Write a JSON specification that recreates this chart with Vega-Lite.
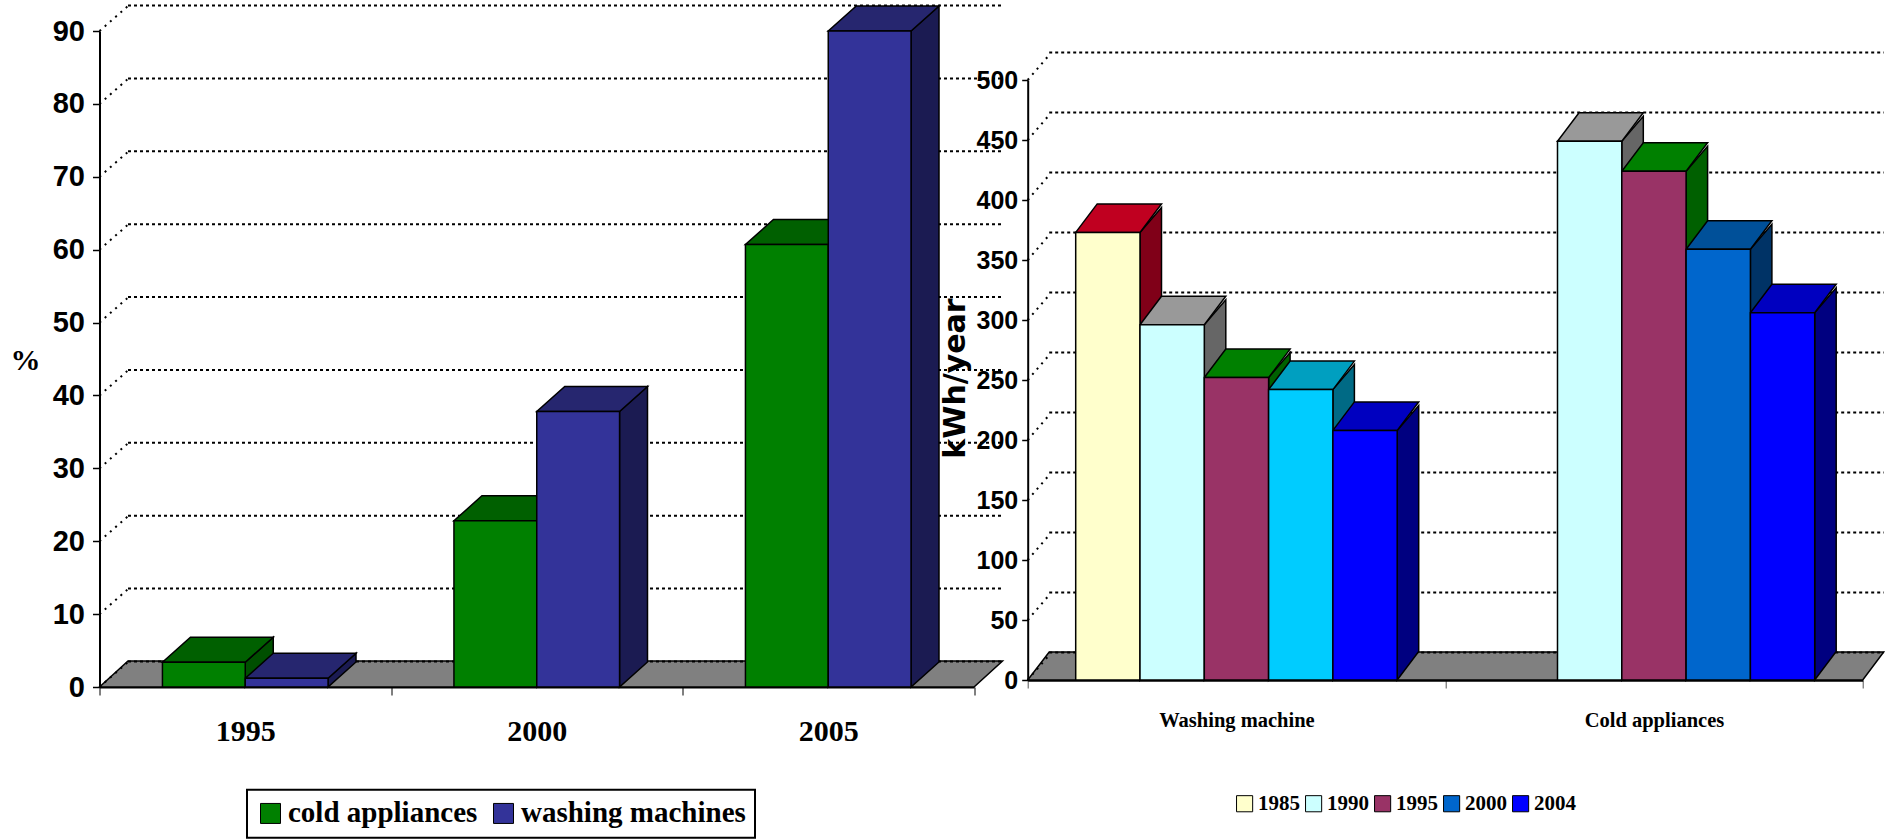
{
  "$schema": "https://vega.github.io/schema/vega-lite/v6.json",
  "background": "white",
  "padding": {"left": 9.5, "top": 1, "right": 2, "bottom": 0},
  "config": {"view": {"stroke": null}, "legend": {"strokeWidth": 2}},
  "bounds": "flush",
  "spacing": 53.2,
  "resolve": {"scale": {"fill": "independent"}},
  "datasets": {
    "adoption": [
      {"year": "1995", "series": "cold appliances", "value": 3.4},
      {"year": "1995", "series": "washing machines", "value": 1.2},
      {"year": "2000", "series": "cold appliances", "value": 22.8},
      {"year": "2000", "series": "washing machines", "value": 37.8},
      {"year": "2005", "series": "cold appliances", "value": 60.7},
      {"year": "2005", "series": "washing machines", "value": 90}
    ],
    "consumption": [
      {"product": "Washing machine", "series": "1985", "value": 373},
      {"product": "Washing machine", "series": "1990", "value": 296},
      {"product": "Washing machine", "series": "1995", "value": 252},
      {"product": "Washing machine", "series": "2000", "value": 242},
      {"product": "Washing machine", "series": "2004", "value": 208},
      {"product": "Cold appliances", "series": "1990", "value": 449},
      {"product": "Cold appliances", "series": "1995", "value": 424},
      {"product": "Cold appliances", "series": "2000", "value": 359},
      {"product": "Cold appliances", "series": "2004", "value": 306}
    ],
    "planes": [
      {"series": "cold appliances", "depth": [0, 1]},
      {"series": "washing machines", "depth": [0, 1]},
      {"series": "1985", "depth": [0, 1]},
      {"series": "1990", "depth": [0, 1]},
      {"series": "1995", "depth": [0, 1]},
      {"series": "2000", "depth": [0, 1]},
      {"series": "2004", "depth": [0, 1]}
    ],
    "percentTicks": [
      {"tick": 0, "depth": [0, 1]}, {"tick": 10, "depth": [0, 1]}, {"tick": 20, "depth": [0, 1]},
      {"tick": 30, "depth": [0, 1]}, {"tick": 40, "depth": [0, 1]}, {"tick": 50, "depth": [0, 1]},
      {"tick": 60, "depth": [0, 1]}, {"tick": 70, "depth": [0, 1]}, {"tick": 80, "depth": [0, 1]},
      {"tick": 90, "depth": [0, 1]}
    ],
    "kwhTicks": [
      {"tick": 0, "depth": [0, 1]}, {"tick": 50, "depth": [0, 1]}, {"tick": 100, "depth": [0, 1]},
      {"tick": 150, "depth": [0, 1]}, {"tick": 200, "depth": [0, 1]}, {"tick": 250, "depth": [0, 1]},
      {"tick": 300, "depth": [0, 1]}, {"tick": 350, "depth": [0, 1]}, {"tick": 400, "depth": [0, 1]},
      {"tick": 450, "depth": [0, 1]}, {"tick": 500, "depth": [0, 1]}
    ]
  },
  "hconcat": [
    {
      "width": 874.5,
      "height": 656,
      "resolve": {"scale": {"xOffset": "independent"}},
      "layer": [
        {
          "data": {"name": "percentTicks"},
          "mark": {"type": "point", "shape": "M0 0L874.5 0L903 -26L28.5 -26Z", "size": 4, "filled": true, "fill": "#808080", "stroke": "black", "strokeWidth": 1.5, "opacity": 1},
          "transform": [{"filter": "datum.tick === 0"}],
          "encoding": {
            "x": {"datum": "1995", "type": "nominal", "bandPosition": 0, "scale": {"type": "band", "domain": ["1995", "2000", "2005"], "paddingInner": 0, "paddingOuter": 0}, "axis": {"title": null, "labelFont": "Liberation Serif", "labelFontWeight": "bold", "labelFontSize": 30, "labelColor": "black", "labelAngle": 0, "labelPadding": 36, "tickBand": "extent", "tickColor": "black", "tickSize": 8, "tickWidth": 1, "domainColor": "black", "domainWidth": 2, "labelBaseline": "middle", "grid": false}},
            "y": {"field": "tick", "type": "quantitative", "scale": {"domain": [0, 90], "range": [656, 0], "nice": false}, "axis": {"values": [0, 10, 20, 30, 40, 50, 60, 70, 80, 90], "grid": false, "title": "%", "titleAngle": 0, "titleFont": "Liberation Serif", "titleFontWeight": "bold", "titleFontSize": 30, "titleAlign": "center", "titleBaseline": "middle", "titleX": -74.5, "titleY": 329, "labelFont": "Liberation Sans", "labelFontWeight": "bold", "labelFontSize": 29, "labelColor": "black", "labelPadding": 8, "tickColor": "black", "tickSize": 7, "tickWidth": 1.5, "domainColor": "black", "domainWidth": 2}}
          }
        },
        {
          "data": {"name": "percentTicks"},
          "transform": [{"flatten": ["depth"]}],
          "mark": {"type": "line", "yOffset": -25.5, "stroke": "black", "strokeWidth": 2, "strokeDash": [3, 3]},
          "encoding": {
            "x": {"datum": "1995", "type": "nominal"},
            "xOffset": {"field": "depth", "type": "quantitative", "scale": {"domain": [0, 1], "range": [28.5, 903]}},
            "y": {"field": "tick", "type": "quantitative"},
            "detail": {"field": "tick"},
            "order": {"field": "depth", "type": "quantitative"}
          }
        },
        {
          "data": {"name": "percentTicks"},
          "transform": [{"flatten": ["depth"]}],
          "mark": {"type": "line", "stroke": "black", "strokeWidth": 2, "strokeDash": [2, 5]},
          "encoding": {
            "x": {"datum": "1995", "type": "nominal"},
            "xOffset": {"field": "depth", "type": "quantitative", "scale": {"domain": [0, 1], "range": [0, 28.5]}},
            "y": {"datum": {"expr": "datum.tick"}, "type": "quantitative"},
            "yOffset": {"field": "depth", "type": "quantitative", "scale": {"domain": [0, 1], "range": [0, -25]}},
            "detail": {"field": "tick"},
            "order": {"field": "depth", "type": "quantitative"}
          }
        },
        {
          "data": {"name": "adoption"},
          "transform": [
            {"filter": "datum.series === 'cold appliances'"},
            {"lookup": "series", "from": {"data": {"name": "planes"}, "key": "series", "fields": ["depth"]}},
            {"flatten": ["depth"]}
          ],
          "mark": {"type": "area", "fill": "#004F00", "stroke": "black", "strokeWidth": 1.5},
          "encoding": {
            "x": {"field": "year", "type": "nominal"},
            "xOffset": {"field": "depth", "type": "quantitative", "scale": {"domain": [0, 1], "range": [145.75, 173.75]}},
            "y": {"datum": {"expr": "datum.value"}, "type": "quantitative", "stack": null},
            "y2": {"datum": {"expr": "datum.depth * 3.43"}},
            "yOffset": {"field": "depth", "type": "quantitative", "scale": {"domain": [0, 1], "range": [0, -25]}},
            "detail": {"field": "year"}
          }
        },
        {
          "data": {"name": "adoption"},
          "transform": [
            {"filter": "datum.series === 'washing machines'"},
            {"lookup": "series", "from": {"data": {"name": "planes"}, "key": "series", "fields": ["depth"]}},
            {"flatten": ["depth"]}
          ],
          "mark": {"type": "area", "fill": "#1B1B52", "stroke": "black", "strokeWidth": 1.5},
          "encoding": {
            "x": {"field": "year", "type": "nominal"},
            "xOffset": {"field": "depth", "type": "quantitative", "scale": {"domain": [0, 1], "range": [228.5, 256.5]}},
            "y": {"datum": {"expr": "datum.value"}, "type": "quantitative", "stack": null},
            "y2": {"datum": {"expr": "datum.depth * 3.43"}},
            "yOffset": {"field": "depth", "type": "quantitative", "scale": {"domain": [0, 1], "range": [0, -25]}},
            "detail": {"field": "year"}
          }
        },
        {
          "data": {"name": "adoption"},
          "transform": [{"filter": "datum.series === 'cold appliances'"}],
          "mark": {"type": "point", "shape": "M-41.4 0L41.4 0L69.4 -25L-13.4 -25Z", "size": 4, "filled": true, "fill": "#006000", "stroke": "black", "strokeWidth": 1.5, "opacity": 1},
          "encoding": {
            "x": {"field": "year", "type": "nominal"},
            "xOffset": {"field": "series", "type": "nominal", "scale": {"type": "band", "domain": ["cold appliances", "washing machines"], "paddingInner": 0, "paddingOuter": 0.76}},
            "y": {"field": "value", "type": "quantitative"}
          }
        },
        {
          "data": {"name": "adoption"},
          "transform": [{"filter": "datum.series === 'washing machines'"}],
          "mark": {"type": "point", "shape": "M-41.4 0L41.4 0L69.4 -25L-13.4 -25Z", "size": 4, "filled": true, "fill": "#26266F", "stroke": "black", "strokeWidth": 1.5, "opacity": 1},
          "encoding": {
            "x": {"field": "year", "type": "nominal"},
            "xOffset": {"field": "series", "type": "nominal", "scale": {"type": "band", "domain": ["cold appliances", "washing machines"], "paddingInner": 0, "paddingOuter": 0.76}},
            "y": {"field": "value", "type": "quantitative"}
          }
        },
        {
          "data": {"name": "adoption"},
          "mark": {"type": "bar", "stroke": "black", "strokeWidth": 1.5},
          "encoding": {
            "x": {"field": "year", "type": "nominal"},
            "xOffset": {"field": "series", "type": "nominal", "scale": {"type": "band", "domain": ["cold appliances", "washing machines"], "paddingInner": 0, "paddingOuter": 0.76}},
            "y": {"field": "value", "type": "quantitative", "stack": null},
            "fill": {
              "field": "series",
              "type": "nominal",
              "scale": {"domain": ["cold appliances", "washing machines"], "range": ["#008000", "#333399"]},
              "legend": {"title": null, "orient": "none", "legendX": 147.5, "legendY": 758.7, "direction": "horizontal", "columns": 2, "symbolType": "square", "symbolSize": 400, "symbolStrokeColor": "black", "symbolStrokeWidth": 1, "labelFont": "Liberation Serif", "labelFontWeight": "bold", "labelFontSize": 29, "labelColor": "black", "labelOffset": 3, "labelLimit": 400, "columnPadding": 11, "padding": 9, "strokeColor": "black", "fillColor": "white"}
            }
          }
        }
      ]
    },
    {
      "width": 835,
      "height": 649,
      "resolve": {"scale": {"xOffset": "independent"}},
      "layer": [
        {
          "data": {"name": "kwhTicks"},
          "transform": [{"filter": "datum.tick === 0"}],
          "mark": {"type": "point", "shape": "M0 0L835 0L856 -28L21.5 -28Z", "size": 4, "filled": true, "fill": "#808080", "stroke": "black", "strokeWidth": 1.5, "opacity": 1},
          "encoding": {
            "x": {"datum": "Washing machine", "type": "nominal", "bandPosition": 0, "scale": {"type": "band", "domain": ["Washing machine", "Cold appliances"], "paddingInner": 0, "paddingOuter": 0}, "axis": {"title": null, "labelFont": "Liberation Serif", "labelFontWeight": "bold", "labelFontSize": 20.5, "labelColor": "black", "labelAngle": 0, "labelPadding": 32, "tickBand": "extent", "tickColor": "#555555", "tickSize": 8, "tickWidth": 1, "domainColor": "black", "domainWidth": 2.5, "labelBaseline": "middle", "grid": false}},
            "y": {"field": "tick", "type": "quantitative", "scale": {"domain": [0, 500], "range": [649, 49], "nice": false}, "axis": {"values": [0, 50, 100, 150, 200, 250, 300, 350, 400, 450, 500], "grid": false, "title": "kWh/year", "titleAngle": 270, "titleFont": "DejaVu Sans", "titleFontWeight": "bold", "titleFontSize": 30, "titleAlign": "center", "titleBaseline": "middle", "titleX": -72, "titleY": 347, "labelFont": "Liberation Sans", "labelFontWeight": "bold", "labelFontSize": 25, "labelColor": "black", "labelPadding": 4, "tickColor": "black", "tickSize": 6, "tickWidth": 1.5, "domainColor": "black", "domainWidth": 2}}
          }
        },
        {
          "data": {"name": "kwhTicks"},
          "transform": [{"flatten": ["depth"]}],
          "mark": {"type": "line", "yOffset": -27.5, "stroke": "black", "strokeWidth": 2, "strokeDash": [3, 3]},
          "encoding": {
            "x": {"datum": "Washing machine", "type": "nominal"},
            "xOffset": {"field": "depth", "type": "quantitative", "scale": {"domain": [0, 1], "range": [21.5, 856]}},
            "y": {"field": "tick", "type": "quantitative"},
            "detail": {"field": "tick"},
            "order": {"field": "depth", "type": "quantitative"}
          }
        },
        {
          "data": {"name": "kwhTicks"},
          "transform": [{"flatten": ["depth"]}],
          "mark": {"type": "line", "stroke": "black", "strokeWidth": 2, "strokeDash": [2, 5]},
          "encoding": {
            "x": {"datum": "Washing machine", "type": "nominal"},
            "xOffset": {"field": "depth", "type": "quantitative", "scale": {"domain": [0, 1], "range": [0, 21.5]}},
            "y": {"datum": {"expr": "datum.tick"}, "type": "quantitative"},
            "yOffset": {"field": "depth", "type": "quantitative", "scale": {"domain": [0, 1], "range": [0, -28.5]}},
            "detail": {"field": "tick"},
            "order": {"field": "depth", "type": "quantitative"}
          }
        },
        {
          "data": {"name": "consumption"},
          "transform": [
            {"filter": "datum.series === '1985'"},
            {"lookup": "series", "from": {"data": {"name": "planes"}, "key": "series", "fields": ["depth"]}},
            {"flatten": ["depth"]}
          ],
          "mark": {"type": "area", "fill": "#800018", "stroke": "black", "strokeWidth": 1.5},
          "encoding": {
            "x": {"field": "product", "type": "nominal"},
            "xOffset": {"field": "depth", "type": "quantitative", "scale": {"domain": [0, 1], "range": [112.3, 133.8]}},
            "y": {"datum": {"expr": "datum.value"}, "type": "quantitative", "stack": null},
            "y2": {"datum": {"expr": "datum.depth * 23.75"}},
            "yOffset": {"field": "depth", "type": "quantitative", "scale": {"domain": [0, 1], "range": [0, -28.5]}},
            "detail": {"field": "product"}
          }
        },
        {
          "data": {"name": "consumption"},
          "transform": [
            {"filter": "datum.series === '1990'"},
            {"lookup": "series", "from": {"data": {"name": "planes"}, "key": "series", "fields": ["depth"]}},
            {"flatten": ["depth"]}
          ],
          "mark": {"type": "area", "fill": "#666666", "stroke": "black", "strokeWidth": 1.5},
          "encoding": {
            "x": {"field": "product", "type": "nominal"},
            "xOffset": {"field": "depth", "type": "quantitative", "scale": {"domain": [0, 1], "range": [176.6, 198.1]}},
            "y": {"datum": {"expr": "datum.value"}, "type": "quantitative", "stack": null},
            "y2": {"datum": {"expr": "datum.depth * 23.75"}},
            "yOffset": {"field": "depth", "type": "quantitative", "scale": {"domain": [0, 1], "range": [0, -28.5]}},
            "detail": {"field": "product"}
          }
        },
        {
          "data": {"name": "consumption"},
          "transform": [
            {"filter": "datum.series === '1995'"},
            {"lookup": "series", "from": {"data": {"name": "planes"}, "key": "series", "fields": ["depth"]}},
            {"flatten": ["depth"]}
          ],
          "mark": {"type": "area", "fill": "#006000", "stroke": "black", "strokeWidth": 1.5},
          "encoding": {
            "x": {"field": "product", "type": "nominal"},
            "xOffset": {"field": "depth", "type": "quantitative", "scale": {"domain": [0, 1], "range": [240.9, 262.4]}},
            "y": {"datum": {"expr": "datum.value"}, "type": "quantitative", "stack": null},
            "y2": {"datum": {"expr": "datum.depth * 23.75"}},
            "yOffset": {"field": "depth", "type": "quantitative", "scale": {"domain": [0, 1], "range": [0, -28.5]}},
            "detail": {"field": "product"}
          }
        },
        {
          "data": {"name": "consumption"},
          "transform": [
            {"filter": "datum.series === '2000'"},
            {"lookup": "series", "from": {"data": {"name": "planes"}, "key": "series", "fields": ["depth"]}},
            {"flatten": ["depth"]}
          ],
          "mark": {"type": "area", "stroke": "black", "strokeWidth": 1.5},
          "encoding": {
            "x": {"field": "product", "type": "nominal"},
            "xOffset": {"field": "depth", "type": "quantitative", "scale": {"domain": [0, 1], "range": [305.2, 326.7]}},
            "y": {"datum": {"expr": "datum.value"}, "type": "quantitative", "stack": null},
            "y2": {"datum": {"expr": "datum.depth * 23.75"}},
            "yOffset": {"field": "depth", "type": "quantitative", "scale": {"domain": [0, 1], "range": [0, -28.5]}},
            "detail": {"field": "product"},
            "fill": {"condition": {"test": "datum.product === 'Washing machine'", "value": "#006A85"}, "value": "#003366"}
          }
        },
        {
          "data": {"name": "consumption"},
          "transform": [
            {"filter": "datum.series === '2004'"},
            {"lookup": "series", "from": {"data": {"name": "planes"}, "key": "series", "fields": ["depth"]}},
            {"flatten": ["depth"]}
          ],
          "mark": {"type": "area", "fill": "#000080", "stroke": "black", "strokeWidth": 1.5},
          "encoding": {
            "x": {"field": "product", "type": "nominal"},
            "xOffset": {"field": "depth", "type": "quantitative", "scale": {"domain": [0, 1], "range": [369.5, 391]}},
            "y": {"datum": {"expr": "datum.value"}, "type": "quantitative", "stack": null},
            "y2": {"datum": {"expr": "datum.depth * 23.75"}},
            "yOffset": {"field": "depth", "type": "quantitative", "scale": {"domain": [0, 1], "range": [0, -28.5]}},
            "detail": {"field": "product"}
          }
        },
        {
          "data": {"name": "consumption"},
          "mark": {"type": "point", "shape": "M-32.15 0L32.15 0L53.65 -28.5L-10.65 -28.5Z", "size": 4, "filled": true, "stroke": "black", "strokeWidth": 1.5, "opacity": 1},
          "encoding": {
            "x": {"field": "product", "type": "nominal"},
            "xOffset": {"field": "series", "type": "nominal", "scale": {"type": "band", "domain": ["1985", "1990", "1995", "2000", "2004"], "paddingInner": 0, "paddingOuter": 0.7465}},
            "y": {"field": "value", "type": "quantitative"},
            "fill": {
              "condition": [
                {"test": "datum.series === '1985'", "value": "#C00020"},
                {"test": "datum.series === '1990'", "value": "#999999"},
                {"test": "datum.series === '1995'", "value": "#008000"},
                {"test": "datum.series === '2000' && datum.product === 'Washing machine'", "value": "#009FC0"},
                {"test": "datum.series === '2000'", "value": "#005099"}
              ],
              "value": "#0000C0"
            }
          }
        },
        {
          "data": {"name": "consumption"},
          "mark": {"type": "bar", "stroke": "black", "strokeWidth": 1.5},
          "encoding": {
            "x": {"field": "product", "type": "nominal"},
            "xOffset": {"field": "series", "type": "nominal", "scale": {"type": "band", "domain": ["1985", "1990", "1995", "2000", "2004"], "paddingInner": 0, "paddingOuter": 0.7465}},
            "y": {"field": "value", "type": "quantitative", "stack": null},
            "fill": {
              "condition": {"test": "datum.series === '2000' && datum.product === 'Washing machine'", "value": "#00CCFF"},
              "field": "series",
              "type": "nominal",
              "scale": {"domain": ["1985", "1990", "1995", "2000", "2004"], "range": ["#FFFFCC", "#CCFFFF", "#993366", "#0066CC", "#0000FF"]},
              "legend": {"title": null, "orient": "none", "legendX": 206.4, "legendY": 762, "direction": "horizontal", "columns": 5, "symbolType": "square", "symbolSize": 260, "symbolStrokeColor": "black", "symbolStrokeWidth": 1, "labelFont": "Liberation Serif", "labelFontWeight": "bold", "labelFontSize": 21, "labelColor": "black", "labelOffset": 3, "columnPadding": 3}
            }
          }
        }
      ]
    }
  ]
}
